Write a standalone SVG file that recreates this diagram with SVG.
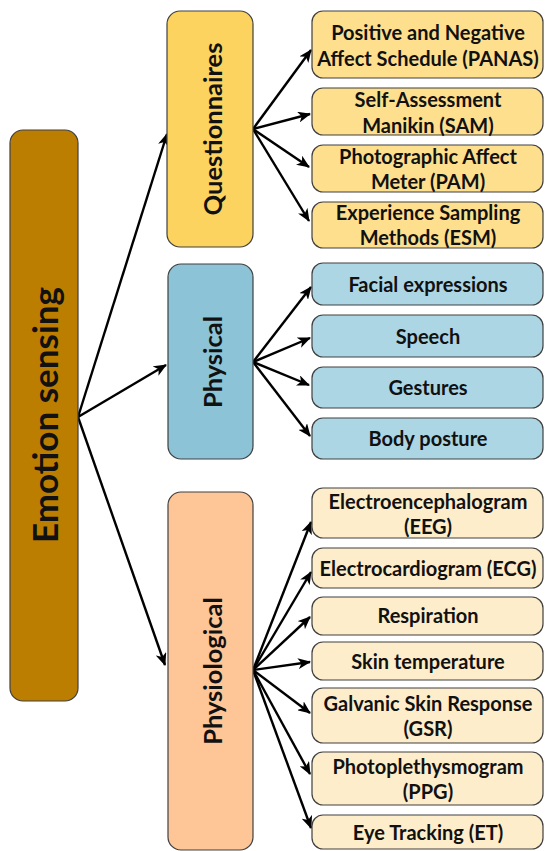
<svg xmlns="http://www.w3.org/2000/svg" width="546" height="851" viewBox="0 0 546 851">
  <defs>
    <marker id="arrow" viewBox="0 0 13 11" refX="12" refY="5.5" markerWidth="13" markerHeight="11" markerUnits="userSpaceOnUse" orient="auto">
      <path d="M0,0 L13,5.5 L0,11 L3.5,5.5 Z" fill="#000"/>
    </marker>
    <style>
      .box { stroke: #404040; stroke-width: 1.2; }
      .root { fill: #BC7E00; }
      .q { fill: #FDD35F; }
      .ql { fill: #FEDF8E; }
      .p { fill: #8CC3D6; }
      .pl { fill: #ADD6E5; }
      .y { fill: #FEC597; }
      .yl { fill: #FEEDCB; }
      text { font-family: Lato, "Open Sans", "Liberation Sans", sans-serif; font-weight: bold; fill: #111; text-anchor: middle; dominant-baseline: central; }
      .leaf { font-size: 20px; }
      .cat { font-size: 25.5px; }
      .big { font-size: 35px; }
      .conn line { stroke: #000; stroke-width: 2.4; marker-end: url(#arrow); }
    </style>
  </defs>

  <!-- connectors -->
  <g id="connectors" class="conn">
    <line x1="78" y1="417" x2="167" y2="134"/>
    <line x1="78" y1="417" x2="166" y2="365"/>
    <line x1="78" y1="417" x2="165" y2="665"/>

    <line x1="253" y1="129" x2="311" y2="50"/>
    <line x1="253" y1="129" x2="310" y2="114"/>
    <line x1="253" y1="129" x2="309" y2="167"/>
    <line x1="253" y1="129" x2="309" y2="221"/>

    <line x1="253" y1="362" x2="311" y2="287"/>
    <line x1="253" y1="362" x2="310" y2="338"/>
    <line x1="253" y1="362" x2="309" y2="385"/>
    <line x1="253" y1="362" x2="310" y2="436"/>

    <line x1="253" y1="670" x2="311" y2="522"/>
    <line x1="253" y1="670" x2="311" y2="572"/>
    <line x1="253" y1="670" x2="310" y2="617"/>
    <line x1="253" y1="670" x2="310" y2="662"/>
    <line x1="253" y1="670" x2="310" y2="713"/>
    <line x1="253" y1="670" x2="310" y2="774"/>
    <line x1="253" y1="670" x2="311" y2="828"/>
  </g>

  <!-- root -->
  <g id="emotion-sensing">
    <rect class="box root" x="10" y="130" width="68" height="571" rx="13"/>
    <text class="big" transform="translate(44 415) rotate(-90)">Emotion sensing</text>
  </g>

  <!-- categories -->
  <g id="questionnaires">
    <rect class="box q" x="167" y="11" width="86" height="236" rx="13"/>
    <text class="cat" transform="translate(212 129) rotate(-90)">Questionnaires</text>
  </g>
  <g id="physical">
    <rect class="box p" x="168" y="264" width="85" height="195" rx="13"/>
    <text class="cat" transform="translate(212 362) rotate(-90)">Physical</text>
  </g>
  <g id="physiological">
    <rect class="box y" x="168" y="492" width="85" height="358" rx="13"/>
    <text class="cat" transform="translate(212 671) rotate(-90)">Physiological</text>
  </g>

  <!-- questionnaire leaves -->
  <g id="panas">
    <rect class="box ql" x="312" y="11" width="231" height="67" rx="11"/>
    <text class="leaf" x="428" y="32">Positive and Negative</text>
    <text class="leaf" x="428" y="58">Affect Schedule (PANAS)</text>
  </g>
  <g id="sam">
    <rect class="box ql" x="312" y="88" width="231" height="47" rx="11"/>
    <text class="leaf" x="428" y="99">Self-Assessment</text>
    <text class="leaf" x="428" y="125">Manikin (SAM)</text>
  </g>
  <g id="pam">
    <rect class="box ql" x="312" y="145" width="231" height="47" rx="11"/>
    <text class="leaf" x="428" y="156">Photographic Affect</text>
    <text class="leaf" x="428" y="181">Meter (PAM)</text>
  </g>
  <g id="esm">
    <rect class="box ql" x="312" y="202" width="231" height="46" rx="11"/>
    <text class="leaf" x="428" y="212">Experience Sampling</text>
    <text class="leaf" x="428" y="237">Methods (ESM)</text>
  </g>

  <!-- physical leaves -->
  <g id="facial">
    <rect class="box pl" x="312" y="263" width="231" height="42" rx="11"/>
    <text class="leaf" x="428" y="284">Facial expressions</text>
  </g>
  <g id="speech">
    <rect class="box pl" x="312" y="315" width="231" height="42" rx="11"/>
    <text class="leaf" x="428" y="336">Speech</text>
  </g>
  <g id="gestures">
    <rect class="box pl" x="312" y="367" width="231" height="41" rx="11"/>
    <text class="leaf" x="428" y="387">Gestures</text>
  </g>
  <g id="body-posture">
    <rect class="box pl" x="312" y="418" width="231" height="41" rx="11"/>
    <text class="leaf" x="428" y="438">Body posture</text>
  </g>

  <!-- physiological leaves -->
  <g id="eeg">
    <rect class="box yl" x="312" y="488" width="231" height="50" rx="11"/>
    <text class="leaf" x="428" y="501">Electroencephalogram</text>
    <text class="leaf" x="428" y="526">(EEG)</text>
  </g>
  <g id="ecg">
    <rect class="box yl" x="312" y="548" width="231" height="40" rx="11"/>
    <text class="leaf" x="428" y="568">Electrocardiogram (ECG)</text>
  </g>
  <g id="respiration">
    <rect class="box yl" x="312" y="597" width="231" height="38" rx="11"/>
    <text class="leaf" x="428" y="615">Respiration</text>
  </g>
  <g id="skin-temperature">
    <rect class="box yl" x="312" y="642" width="231" height="38" rx="11"/>
    <text class="leaf" x="428" y="661">Skin temperature</text>
  </g>
  <g id="gsr">
    <rect class="box yl" x="312" y="688" width="231" height="55" rx="11"/>
    <text class="leaf" x="428" y="703">Galvanic Skin Response</text>
    <text class="leaf" x="428" y="728">(GSR)</text>
  </g>
  <g id="ppg">
    <rect class="box yl" x="312" y="752" width="231" height="53" rx="11"/>
    <text class="leaf" x="428" y="766">Photoplethysmogram</text>
    <text class="leaf" x="428" y="791">(PPG)</text>
  </g>
  <g id="et">
    <rect class="box yl" x="312" y="815" width="231" height="34" rx="11"/>
    <text class="leaf" x="428" y="832">Eye Tracking (ET)</text>
  </g>
</svg>
